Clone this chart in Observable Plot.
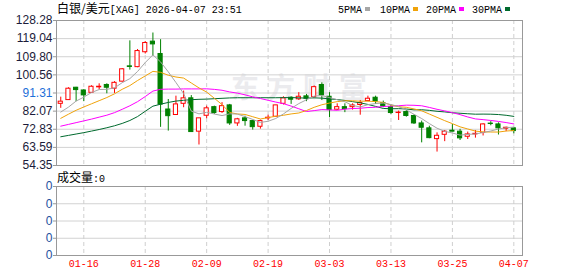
<!DOCTYPE html>
<html><head><meta charset="utf-8">
<script src="https://cdn.jsdelivr.net/npm/d3@7"></script>
<script src="https://cdn.jsdelivr.net/npm/@observablehq/plot@0.6"></script>
<style>
body{margin:0;background:#fff;}
#chart{position:relative;width:578px;height:276px;overflow:hidden;background:#fff;}
#chart svg{display:block;}
</style></head><body><div id="chart"></div>
<script>
// ---- data ----
const open  = [85.8,87.7,94.0,92.6,91.4,94.2,95.4,93.5,97.1,104.9,104.5,112.1,117.5,111.2,82.9,80.1,85.8,88.6,71.6,79.7,84.1,81.6,85.0,75.8,78.4,77.0,74.1,78.4,79.2,85.8,88.9,88.1,89.6,89.2,95.4,89.4,82.8,84.1,84.1,85.2,87.2,88.9,86.2,84.1,81.1,81.6,79.6,75.8,73.3,67.8,70.0,72.1,71.6,69.0,70.2,71.0,75.7,75.3,73.1,73.3];
const high  = [89.2,94.0,94.2,93.0,95.0,96.0,96.0,97.1,103.8,117.9,113.5,117.5,121.9,118.5,88.0,89.7,92.3,90.0,78.4,84.6,84.6,86.4,85.5,78.4,79.5,77.4,77.5,80.0,85.0,89.4,89.4,91.5,90.6,94.9,96.5,91.5,85.8,85.8,85.8,87.5,89.7,89.7,87.2,85.2,82.1,82.4,80.1,77.0,74.4,71.0,72.2,75.3,72.8,71.4,72.2,75.6,76.7,76.1,73.9,73.6];
const low   = [83.5,87.5,86.9,86.9,91.1,93.0,90.9,91.1,96.9,103.0,104.2,111.2,110.0,73.8,71.9,80.1,83.8,71.4,64.8,78.2,80.4,80.9,74.8,74.3,74.4,72.4,72.9,77.3,79.2,85.2,85.5,87.5,86.9,88.9,87.5,78.7,82.4,81.3,82.6,80.0,86.9,85.5,83.8,80.4,77.3,79.0,75.3,65.9,68.0,61.2,66.5,71.5,67.1,67.6,68.3,69.4,74.6,69.9,71.6,70.5];
const close = [86.9,93.5,92.8,90.1,94.5,94.5,94.0,96.5,103.4,104.6,112.7,116.8,116.1,85.4,79.5,85.5,88.6,71.4,78.4,83.5,81.1,84.6,75.8,77.9,77.0,73.9,77.0,78.7,85.0,88.6,87.9,89.4,88.4,94.3,90.1,82.6,84.1,83.1,85.0,86.2,88.4,86.9,84.5,81.1,81.3,79.6,75.8,73.6,68.3,69.5,71.6,71.6,68.2,70.2,70.5,75.3,75.5,73.3,73.6,71.9];

const ma5  = [81.6,84.1,87.2,89.2,91.56,93.08,93.18,93.92,96.58,98.64,102.28,106.84,110.76,107.16,102.1,96.66,91.02,82.08,80.68,81.48,80.6,79.8,80.68,80.58,79.28,77.84,76.32,76.9,78.32,80.64,83.44,85.92,87.86,89.72,90.02,88.96,87.9,86.84,84.98,84.2,85.36,85.92,86.2,85.42,84.44,82.68,80.46,78.28,75.72,73.36,71.76,70.92,69.84,70.22,70.42,71.16,71.94,72.96,73.64,73.92];
const ma10 = [78.4,80.5,82.5,84.2,85.8,87.4,89.0,90.9,93.2,95.1,97.68,100.01,102.34,101.87,100.37,99.47,98.93,96.42,93.92,91.79,88.63,85.41,81.38,80.63,80.38,79.22,78.06,78.79,79.45,79.96,80.64,81.12,82.38,84.02,85.33,86.2,86.91,87.35,87.35,87.11,87.16,86.91,86.52,85.2,84.32,84.02,83.19,82.24,80.57,78.9,77.22,75.69,74.06,72.97,71.89,71.46,71.43,71.4,71.93,72.17];
const ma20 = [74.4,75.3,76.2,77.1,78.0,79.0,80.0,81.3,83.0,84.8,86.9,89.5,92.3,93.2,93.3,93.3,93.4,93.4,93.4,93.45,93.16,92.71,91.86,91.25,90.38,89.35,88.5,87.6,86.69,85.88,84.64,83.27,81.88,82.33,82.86,82.71,82.49,83.07,83.4,83.54,83.9,84.02,84.45,84.61,84.83,85.11,85.05,84.8,83.96,83.0,82.19,81.3,80.29,79.09,78.1,77.74,77.31,76.82,76.25,75.54];
const ma30 = [69.0,69.7,70.4,71.1,71.9,72.7,73.6,74.6,75.8,77.3,79.3,82.0,84.6,85.6,86.5,87.2,87.6,87.9,88.1,88.2,88.4,88.6,88.8,88.9,88.9,88.9,88.9,88.9,88.9,88.95,88.98,88.85,88.7,88.84,88.69,88.3,87.97,87.52,86.91,86.29,85.48,84.48,83.43,83.28,83.34,83.15,82.72,82.79,82.46,81.99,81.67,81.24,80.99,80.73,80.51,80.56,80.51,80.33,79.95,79.39];

const dateIdx    = [3,11,19,27,35,43,51,59];
const dateLabels = ["01-16","01-28","02-09","02-19","03-03","03-13","03-25","04-07"];
const yTicks     = [128.28,119.04,109.80,100.56,91.31,82.07,72.83,63.59,54.35];
const volTicks   = [0,1,2,3,4];
const volTickLabels = ["0","0","0","0","0"];
const titleCN = "白银/美元";
const titleEN = "[XAG] 2026-04-07 23:51";
const legendNames  = ["5PMA","10PMA","20PMA","30PMA"];
const legendColors = ["#a6a6a6","#f0a30a","#ff00ff","#006a2e"];

// ---- build ----
const RED = "#ff0000", GREEN = "#008000";
const xDomain = [-0.555, 60.13];
const rows = open.map((o,i)=>({i, open:o, high:high[i], low:low[i], close:close[i], up: close[i] >= o}));
const ups = rows.filter(d=>d.up), downs = rows.filter(d=>!d.up);
const maSeries = [ma30, ma20, ma10, ma5];
const maColors = [legendColors[3], legendColors[2], legendColors[1], legendColors[0]];
const labelFill = "#1b1b3a";

const main = Plot.plot({
  width: 578, height: 172,
  marginTop: 20, marginBottom: 7, marginLeft: 56, marginRight: 56,
  x: {domain: xDomain, axis: null},
  y: {domain: [54.35, 128.28], axis: null},
  style: {background: "#fff", fontFamily: "'Liberation Sans', Arial, sans-serif", fontSize: "12px", overflow: "visible"},
  marks: [
    Plot.ruleY(yTicks, {stroke: "#d2d2d2"}),
    Plot.ruleX(dateIdx, {stroke: "#cfcfcf", strokeDasharray: "4,3"}),
    Plot.ruleX(downs, {x: "i", y1: "low", y2: "high", stroke: GREEN}),
    Plot.ruleX(ups, {x: "i", y1: "low", y2: "high", stroke: RED}),
    Plot.rect(downs, {x1: d=>d.i-0.27, x2: d=>d.i+0.27, y1: "open", y2: "close", fill: GREEN, stroke: GREEN}),
    Plot.rect(ups, {x1: d=>d.i-0.27, x2: d=>d.i+0.27, y1: "open", y2: "close", fill: "#fff", stroke: RED}),
    ...maSeries.map((s,k)=>Plot.line(s.map((v,i)=>({i, v})), {x: "i", y: "v", stroke: maColors[k], strokeWidth: 1})),
    Plot.frame({stroke: "#999"}),
    Plot.ruleY(yTicks, {x1: xDomain[0]-0.4, x2: xDomain[0], stroke: "#999"}),
    Plot.text(yTicks.filter(t=>t!==91.31), {y: d=>d, frameAnchor: "left", dx: -4, textAnchor: "end", text: d=>d.toFixed(2), fill: labelFill, fontSize: 12}),
    Plot.text(yTicks.filter(t=>t===91.31), {y: d=>d, frameAnchor: "left", dx: -4, textAnchor: "end", text: d=>d.toFixed(2), fill: "#1e6fd9", fontSize: 12})
  ]
});

const vol = Plot.plot({
  width: 578, height: 104,
  marginTop: 14, marginBottom: 21, marginLeft: 56, marginRight: 56,
  x: {domain: xDomain, axis: null},
  y: {domain: [0, 4], axis: null},
  style: {background: "#fff", fontFamily: "'Liberation Sans', Arial, sans-serif", fontSize: "12px", overflow: "visible"},
  marks: [
    Plot.ruleY(volTicks, {stroke: "#d2d2d2"}),
    Plot.ruleX(dateIdx, {stroke: "#cfcfcf", strokeDasharray: "4,3"}),
    Plot.frame({stroke: "#999"}),
    Plot.ruleY(volTicks, {x1: xDomain[0]-0.4, x2: xDomain[0], stroke: "#999"}),
    Plot.text(volTicks, {y: d=>d, frameAnchor: "left", dx: -4, textAnchor: "end", text: (d,i)=>volTickLabels[i], fill: "#1e50a0", fontSize: 12}),
    Plot.text(dateIdx, {x: d=>d, frameAnchor: "bottom", dy: 11, text: (d,i)=>dateLabels[i], fill: RED, fontSize: 10, fontFamily: "'Liberation Mono', monospace"})
  ]
});

const root = document.getElementById("chart");
root.appendChild(main);
root.appendChild(vol);

// watermark behind everything
const ms = d3.select(main);
ms.insert("text", ":first-child")
  .attr("x", 231).attr("y", 98)
  .attr("text-anchor", "start")
  .attr("font-family", "'Noto Sans CJK SC', sans-serif")
  .attr("font-size", 28).attr("font-weight", 700)
  .attr("letter-spacing", 8)
  .attr("fill", "#ebebee")
  .text("东方财富");

// title
const t = ms.append("text").attr("x", 57).attr("y", 13).attr("fill", "#000").attr("text-anchor", "start");
t.append("tspan").attr("font-family", "'Noto Sans CJK SC', sans-serif").attr("font-size", 12).text(titleCN);
t.append("tspan").attr("font-family", "'Liberation Mono', monospace").attr("font-size", 10).text(titleEN);

// legend
const legX = [338, 380, 426, 472];
legendNames.forEach((n,k)=>{
  const w = n.length * 6;
  ms.append("text").attr("x", legX[k]).attr("y", 12.5).attr("text-anchor", "start")
    .attr("font-family", "'Liberation Mono', monospace").attr("font-size", 10).attr("fill", "#000").text(n);
  ms.append("rect").attr("x", legX[k] + w + 3).attr("y", 7).attr("width", 5).attr("height", 4).attr("fill", legendColors[k]);
});

// volume title
const vs = d3.select(vol);
const vt = vs.append("text").attr("x", 57).attr("y", 10).attr("fill", "#000").attr("text-anchor", "start");
vt.append("tspan").attr("font-family", "'Noto Sans CJK SC', sans-serif").attr("font-size", 12).text("成交量");
vt.append("tspan").attr("font-family", "'Liberation Mono', monospace").attr("font-size", 10).text(":0");
</script></body></html>
